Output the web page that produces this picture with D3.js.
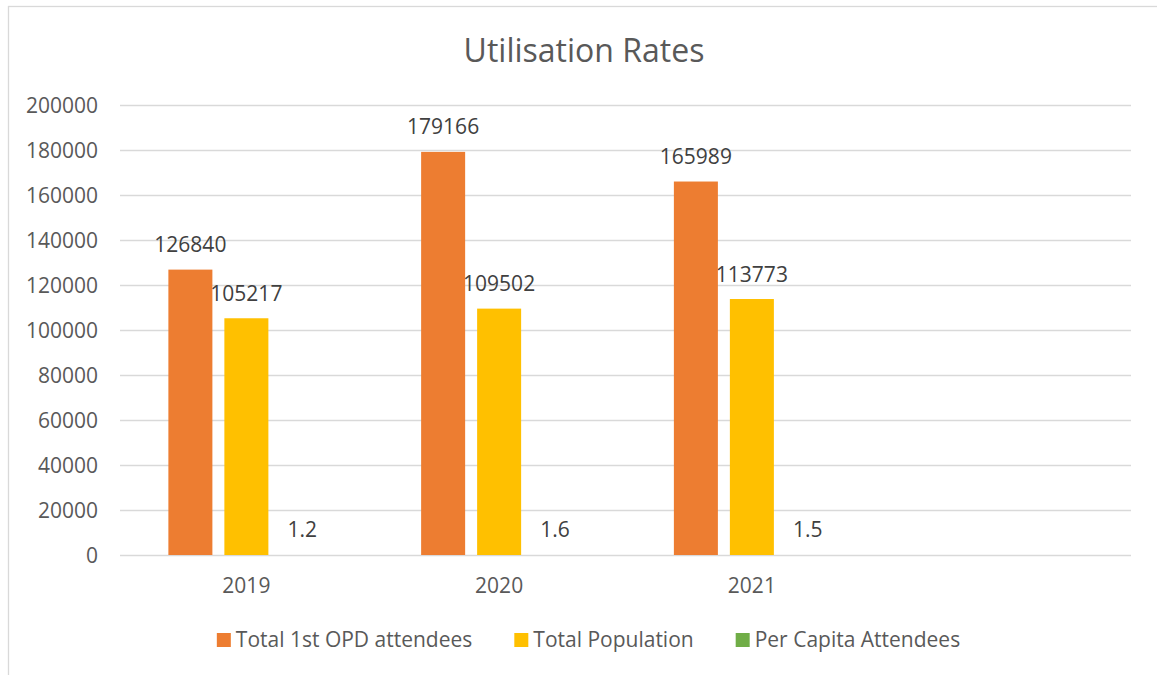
<!DOCTYPE html>
<html>

<head>
    <title>Utilisation Rates</title>
    <script src="https://d3js.org/d3.v7.min.js"></script>
    <style>
        body {
            margin: 0;
            background: white;
        }

        text {
            font-family: "Open Sans", sans-serif;
        }
    </style>
</head>

<body>
    <div id="chart"></div>

    <script>
        // chart data
        var years = ["2019", "2020", "2021", ""];
        var seriesNames = ["Total 1st OPD attendees", "Total Population", "Per Capita Attendees"];
        var opdAttendees = [126840, 179166, 165989];
        var population = [105217, 109502, 113773];
        var perCapita = [1.2, 1.6, 1.5];
        var yTicks = [0, 20000, 40000, 60000, 80000, 100000, 120000, 140000, 160000, 180000, 200000];
        var colors = ["#ED7D31", "#FFC000", "#70AD47"];

        var seriesValues = [opdAttendees, population, perCapita];

        var width = 1157, height = 675;
        var margin = { top: 105, right: 26, bottom: 120, left: 120 };
        var fontSize = "21px";

        var svg = d3.select("#chart")
            .append("svg")
            .attr("width", width)
            .attr("height", height);

        // chart border
        svg.append("rect")
            .attr("x", 8.5)
            .attr("y", 6.5)
            .attr("width", width)
            .attr("height", height)
            .attr("fill", "white")
            .attr("stroke", "#d9d9d9")
            .attr("stroke-width", 1.3);

        // title
        svg.append("text")
            .attr("x", 584)
            .attr("y", 62)
            .attr("text-anchor", "middle")
            .attr("fill", "#595959")
            .style("font-size", "32px")
            .text("Utilisation Rates");

        var x = d3.scaleBand()
            .domain(years)
            .range([margin.left, width - margin.right]);

        var x1 = d3.scaleBand()
            .domain(d3.range(seriesNames.length))
            .range([0, x.bandwidth()])
            .paddingInner(0.214)
            .paddingOuter(0.864);

        var y = d3.scaleLinear()
            .domain([0, 200000])
            .range([height - margin.bottom, margin.top]);

        // gridlines
        svg.append("g")
            .selectAll("line")
            .data(yTicks)
            .enter()
            .append("line")
            .attr("x1", margin.left)
            .attr("x2", width - margin.right)
            .attr("y1", d => Math.round(y(d)) + 0.5)
            .attr("y2", d => Math.round(y(d)) + 0.5)
            .attr("stroke", "#d9d9d9")
            .attr("stroke-width", 1.3);

        // y axis labels
        var yAxis = svg.append("g")
            .attr("transform", "translate(" + margin.left + ",0)")
            .call(d3.axisLeft(y).tickValues(yTicks).tickSize(0).tickPadding(22).tickFormat(d3.format("d")));
        yAxis.select(".domain").remove();
        yAxis.selectAll("text")
            .attr("fill", "#595959")
            .attr("dy", "0.36em")
            .style("font-size", fontSize)
            .style("font-family", "'Open Sans', sans-serif");

        // x axis labels
        var xAxis = svg.append("g")
            .attr("transform", "translate(0," + y(0) + ")")
            .call(d3.axisBottom(x).tickSize(0).tickPadding(23));
        xAxis.select(".domain").remove();
        xAxis.selectAll("text")
            .attr("fill", "#595959")
            .style("font-size", fontSize)
            .style("font-family", "'Open Sans', sans-serif");

        // bars
        var rows = [];
        years.slice(0, 3).forEach(function (yr, i) {
            seriesValues.forEach(function (vals, s) {
                rows.push({ year: yr, series: s, value: vals[i] });
            });
        });

        svg.append("g")
            .selectAll("rect")
            .data(rows)
            .enter()
            .append("rect")
            .attr("x", d => x(d.year) + x1(d.series))
            .attr("y", d => y(d.value))
            .attr("width", x1.bandwidth())
            .attr("height", d => y(0) - y(d.value))
            .attr("fill", d => colors[d.series]);

        // data labels
        svg.append("g")
            .selectAll("text")
            .data(rows)
            .enter()
            .append("text")
            .attr("x", d => x(d.year) + x1(d.series) + x1.bandwidth() / 2)
            .attr("y", d => y(d.value) - 17.5)
            .attr("text-anchor", "middle")
            .attr("fill", "#404040")
            .style("font-size", fontSize)
            .text(d => d.value);

        // legend
        var legend = svg.append("g");
        var lx = 0;
        var items = legend.selectAll("g")
            .data(seriesNames)
            .enter()
            .append("g");
        items.append("rect")
            .attr("y", -14)
            .attr("width", 14)
            .attr("height", 14)
            .attr("fill", (d, i) => colors[i]);
        items.append("text")
            .attr("x", 19)
            .attr("y", 0)
            .attr("fill", "#595959")
            .style("font-size", fontSize)
            .text(d => d);
        items.each(function () {
            var g = d3.select(this);
            g.attr("transform", "translate(" + lx + ",0)");
            lx += 19 + g.select("text").node().getComputedTextLength() + 42;
        });
        var legendWidth = lx - 42;
        legend.attr("transform", "translate(" + (588.5 - legendWidth / 2) + ",647)");
    </script>
</body>

</html>
